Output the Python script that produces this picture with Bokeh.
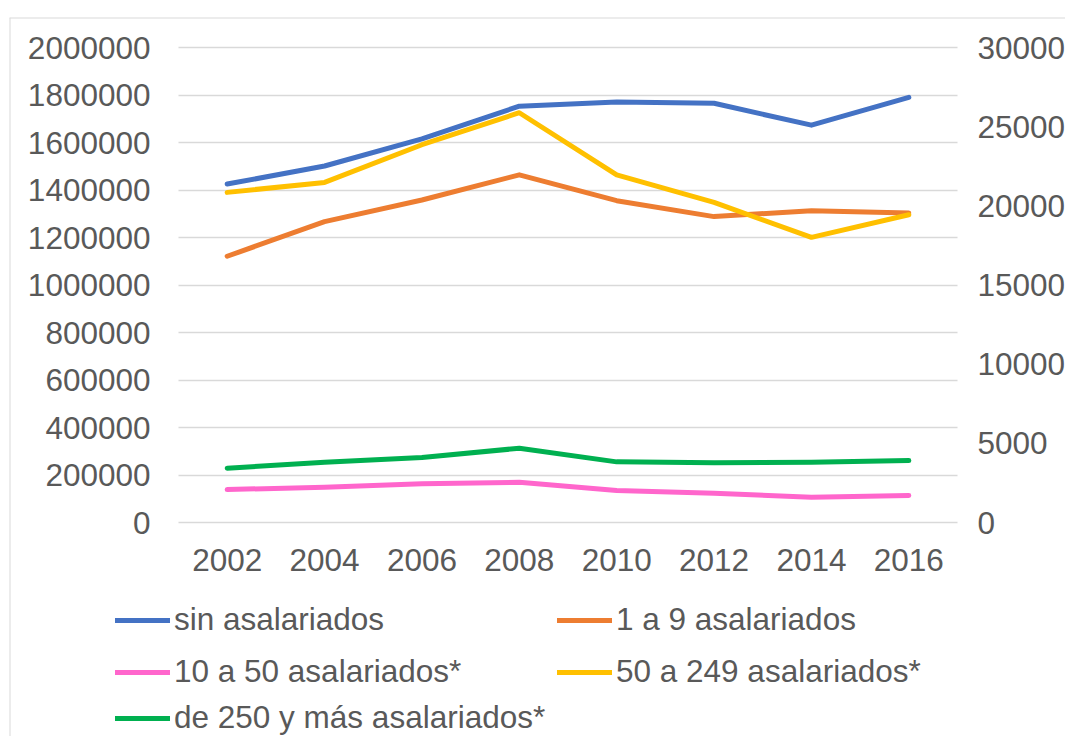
from bokeh.plotting import figure
from bokeh.models import (Range1d, LinearAxis, FixedTicker, Legend, LegendItem,
                          BasicTickFormatter, Span, Grid)
from bokeh.embed import file_html
from bokeh.resources import INLINE

years = [2002, 2004, 2006, 2008, 2010, 2012, 2014, 2016]

# left axis series
sin_asalariados = [1425000, 1501000, 1615000, 1753000, 1771000, 1765000, 1673000, 1790000]
uno_a_9 = [1121000, 1267000, 1358000, 1464000, 1355000, 1288000, 1313000, 1303000]
# right axis series (*)
diez_a_50 = [2080, 2230, 2440, 2540, 2020, 1850, 1600, 1700]
cincuenta_a_249 = [20850, 21480, 23860, 25880, 21950, 20220, 18010, 19440]
mas_250 = [3430, 3810, 4100, 4690, 3830, 3770, 3810, 3910]

left_ticks = list(range(0, 2000001, 200000))
right_ticks = list(range(0, 30001, 5000))
LEFT_MAX, RIGHT_MAX = 2000000, 30000
X_LO, X_HI = 2001, 2017   # edges of the category band

TEXT = "#595959"
GRID = "#D9D9D9"
FONT = "Liberation Sans"
FS = "31.5px"

# ---- layout (figure pixel coordinates) ----
FIG_W, FIG_H = 1065, 736
MB_L, MB_T = 9, 17
PA_L, PA_R, PA_T, PA_B = 178, 957, 47, 522   # plot area inside the figure
FL, FR, FT, FB = MB_L, FIG_W, MB_T, FIG_H

upp = (X_HI - X_LO) / (PA_R - PA_L)
x_start = X_LO - (PA_L - FL) * upp
x_end = X_HI + (FR - PA_R) * upp
vpp = LEFT_MAX / (PA_B - PA_T)
y_end = LEFT_MAX + (PA_T - FT) * vpp
y_start = -(FB - PA_B) * vpp
k = RIGHT_MAX / LEFT_MAX

p = figure(width=FIG_W, height=FIG_H, x_range=Range1d(x_start, x_end),
           y_range=Range1d(y_start, y_end), output_backend="svg", toolbar_location=None,
           min_border_left=MB_L, min_border_right=0, min_border_top=MB_T,
           min_border_bottom=0)
p.extra_y_ranges = {"right": Range1d(y_start * k, y_end * k)}
p.outline_line_color = None
p.background_fill_color = "white"
p.border_fill_color = "white"

p.xgrid.grid_line_color = None
p.ygrid.grid_line_color = GRID
p.ygrid.grid_line_width = 1.5
p.ygrid.ticker = FixedTicker(ticks=left_ticks)
if "cross_bounds" in Grid.properties():
    p.ygrid.cross_bounds = (X_LO, X_HI)

def style_axis(ax):
    ax.axis_line_color = None
    ax.major_tick_line_color = None
    ax.minor_tick_line_color = None
    ax.major_tick_out = 0
    ax.major_tick_in = 0
    ax.major_label_text_font = FONT
    ax.major_label_text_font_size = FS
    ax.major_label_text_color = TEXT

xa = p.xaxis[0]
style_axis(xa)
xa.ticker = FixedTicker(ticks=years)
xa.formatter = BasicTickFormatter(use_scientific=False)
xa.fixed_location = 0
xa.major_label_standoff = 26

ya = p.yaxis[0]
style_axis(ya)
ya.ticker = FixedTicker(ticks=left_ticks)
ya.formatter = BasicTickFormatter(use_scientific=False)
ya.fixed_location = X_LO
ya.major_label_standoff = 28

rax = LinearAxis(y_range_name="right", ticker=FixedTicker(ticks=right_ticks),
                 formatter=BasicTickFormatter(use_scientific=False))
style_axis(rax)
rax.fixed_location = X_HI
rax.major_label_standoff = 20
p.add_layout(rax, "right")

LW = 5
kw = dict(line_width=LW, line_cap="round", line_join="round")
r1 = p.line(years, sin_asalariados, line_color="#4472C4", **kw)
r2 = p.line(years, uno_a_9, line_color="#ED7D31", **kw)
r3 = p.line(years, diez_a_50, line_color="#FF66CC", y_range_name="right", **kw)
r4 = p.line(years, cincuenta_a_249, line_color="#FFC000", y_range_name="right", **kw)
r5 = p.line(years, mas_250, line_color="#00B050", y_range_name="right", **kw)

def make_legend(items, loc):
    lg = Legend(items=items, location=loc, orientation="vertical")
    lg.label_text_font = FONT
    lg.label_text_font_size = FS
    lg.label_text_color = TEXT
    lg.glyph_width = 55
    lg.glyph_height = 36
    lg.label_height = 36
    lg.label_standoff = 4
    lg.spacing = 15
    lg.padding = 0
    lg.margin = 0
    lg.border_line_color = None
    lg.background_fill_alpha = 0
    return lg

leg1 = make_legend([LegendItem(label="sin asalariados", renderers=[r1]),
                    LegendItem(label="10 a 50 asalariados*", renderers=[r3])], (106, 46))
leg2 = make_legend([LegendItem(label="1 a 9 asalariados", renderers=[r2]),
                    LegendItem(label="50 a 249 asalariados*", renderers=[r4])], (548, 46))
leg3 = make_legend([LegendItem(label="de 250 y más asalariados*", renderers=[r5])], (106, 0))
p.add_layout(leg1, "center")
p.add_layout(leg2, "center")
p.add_layout(leg3, "center")

# chart-area border (top and left edges)
p.add_layout(Span(location=x_start, dimension="height", line_color=GRID, line_width=2))
p.add_layout(Span(location=y_end, dimension="width", line_color=GRID, line_width=2))

open("out.html", "w").write(file_html(p, INLINE))
